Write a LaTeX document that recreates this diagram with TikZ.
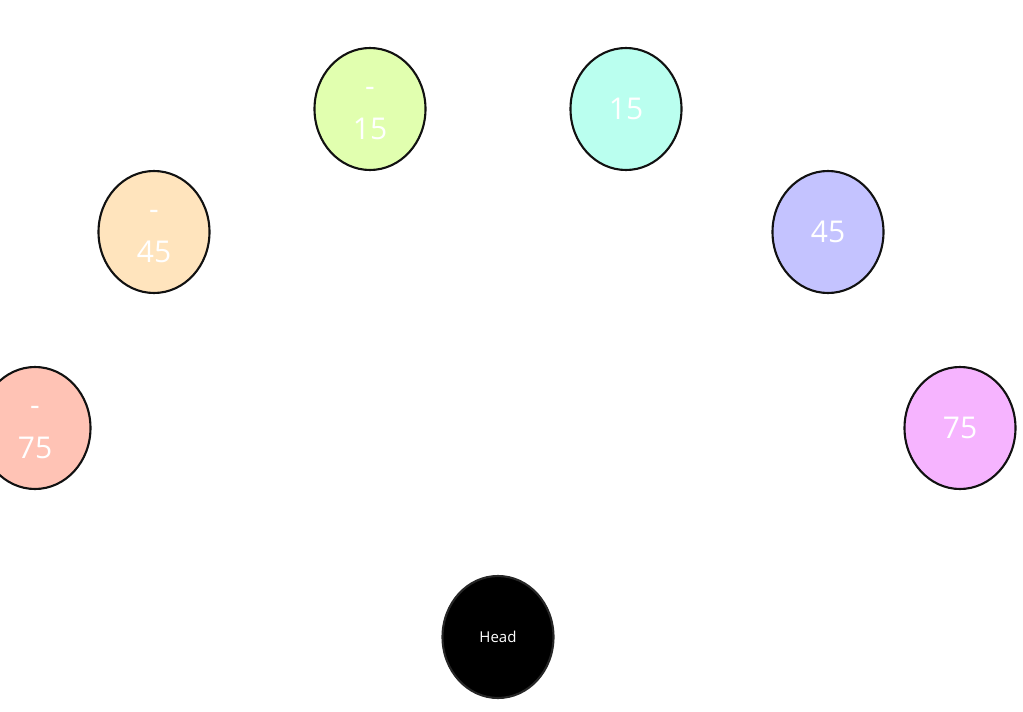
\documentclass[tikz,border=0pt]{standalone}
\usepackage{fontspec}
\setmainfont{Open Sans}
\usetikzlibrary{shapes.geometric}
\definecolor{ink}{HTML}{111111}
\definecolor{cmsf}{HTML}{FFC3B5}
\definecolor{cmff}{HTML}{FFE4BD}
\definecolor{cmof}{HTML}{E1FFAF}
\definecolor{cpof}{HTML}{BAFFEF}
\definecolor{cpff}{HTML}{C4C3FF}
\definecolor{cpsf}{HTML}{F6B4FF}
\tikzset{
  angle/.style={ellipse, draw=ink, fill=#1, line width=2.1pt, minimum width=111pt,
    minimum height=122pt, inner sep=0pt, align=center, text=white,
    font=\fontsize{30}{43}\selectfont},
  head/.style={angle=black, draw=black!85, font=\fontsize{15}{18}\selectfont},
}
\begin{document}
\begin{tikzpicture}[x=1pt, y=-1pt]
  \useasboundingbox (0,0) rectangle (1023,712);
  % angles, left to right
  \node[angle=cmsf] (am75) at (35,428) {\strut-\\75\strut};
  \node[angle=cmff] (am45) at (154,232) {\strut-\\45\strut};
  \node[angle=cmof] (am15) at (370,109) {\strut-\\15\strut};
  \node[angle=cpof] (ap15) at (626,109) {15};
  \node[angle=cpff] (ap45) at (828,232) {45};
  \node[angle=cpsf] (ap75) at (960,428) {75};
  % the listener
  \node[head] (head) at (498,637) {Head};
\end{tikzpicture}
\end{document}
